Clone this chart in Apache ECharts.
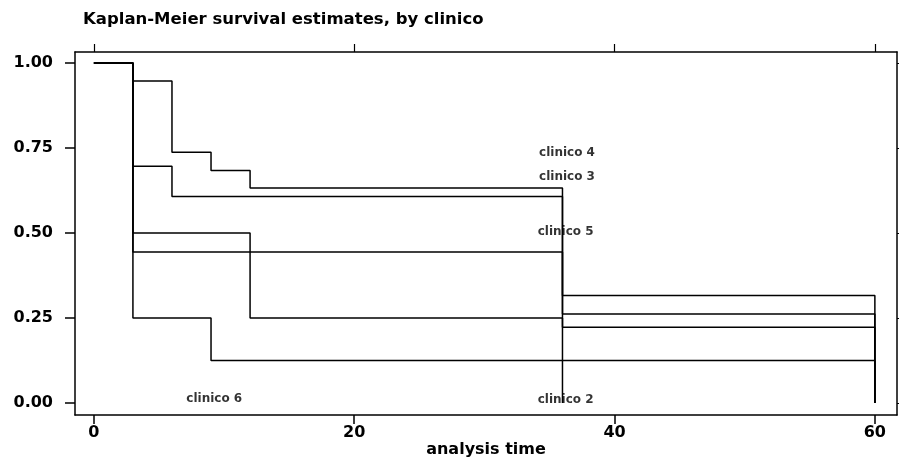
<!DOCTYPE html>
<html>
<head>
<meta charset="utf-8">
<script src="https://cdn.jsdelivr.net/npm/echarts@6/dist/echarts.min.js"></script>
<style>
html,body{margin:0;padding:0;background:#fff;}
#chart{width:899px;height:457px;}
</style>
</head>
<body>
<div id="chart"></div>
<script>
// Kaplan-Meier step data (analysis time, survival) per clinico
const seriesNames = ['clinico 4', 'clinico 3', 'clinico 5', 'clinico 2', 'clinico 6'];
const times4 = [0, 3, 6, 9, 12, 36, 60];
const surv4  = [1.00, 0.947, 0.737, 0.684, 0.632, 0.316, 0.00];
const times3 = [0, 3, 6, 36, 60];
const surv3  = [1.00, 0.696, 0.607, 0.262, 0.00];
const times5 = [0, 3, 36, 60];
const surv5  = [1.00, 0.444, 0.223, 0.00];
const times2 = [0, 3, 12, 36];
const surv2  = [1.00, 0.50, 0.25, 0.00];
const times6 = [0, 3, 9, 60];
const surv6  = [1.00, 0.25, 0.125, 0.00];

const xTicks = [0, 20, 40, 60];
const yTicks = [0, 0.25, 0.5, 0.75, 1.0];

const allTimes = [times4, times3, times5, times2, times6];
const allSurv = [surv4, surv3, surv5, surv2, surv6];

// curve label anchors (time, survival) as printed in the plot
const labelNames = ['clinico 4', 'clinico 3', 'clinico 5', 'clinico 2', 'clinico 6'];
const labelTimes = [34.2, 34.2, 34.1, 34.1, 7.1];
const labelLevels = [0.735, 0.665, 0.503, 0.009, 0.012];

const FONT = 'DejaVu Sans';

const lineSeries = seriesNames.map((name, i) => ({
  name: name,
  type: 'line',
  step: 'end',
  symbol: 'none',
  silent: true,
  data: allTimes[i].map((t, j) => [t, allSurv[i][j]]),
  lineStyle: { color: '#000', width: 1.5 },
  xAxisIndex: 0,
  yAxisIndex: 0
}));

const labelSeries = {
  type: 'scatter',
  symbolSize: 0,
  silent: true,
  data: labelNames.map((n, i) => ({ value: [labelTimes[i], labelLevels[i]], name: n })),
  label: {
    show: true,
    position: 'right',
    distance: 0,
    formatter: p => p.name,
    color: '#000',
    fontFamily: FONT,
    fontWeight: 'bold',
    fontSize: 12
  }
};

const chart = echarts.init(document.getElementById('chart'), null, { renderer: 'canvas' });
const option = {
  backgroundColor: '#fff',
  animation: false,
  title: {
    text: 'Kaplan-Meier survival estimates, by clinico',
    left: 78,
    top: 6,
    textStyle: { fontFamily: FONT, fontWeight: 'bold', fontSize: 16.5, color: '#000' }
  },
  grid: { left: 75, right: 2, top: 52, bottom: 42, show: false, outerBoundsMode: 'none', containLabel: false },
  xAxis: [
    {
      type: 'value', position: 'bottom', min: -1.45, max: 61.7,
      name: 'analysis time', nameLocation: 'middle', nameGap: 27, nameMoveOverlap: false,
      nameTextStyle: { fontFamily: FONT, fontWeight: 'bold', fontSize: 16, color: '#000' },
      axisLine: { show: true, onZero: false, lineStyle: { color: '#000', width: 1.5 } },
      axisTick: { show: true, customValues: xTicks, length: 9, lineStyle: { color: '#000', width: 1.5 } },
      axisLabel: { show: true, customValues: xTicks, margin: 10, color: '#000',
        fontFamily: FONT, fontWeight: 'bold', fontSize: 16 },
      splitLine: { show: false }
    },
    {
      type: 'value', position: 'top', min: -1.45, max: 61.7,
      axisLine: { show: true, onZero: false, lineStyle: { color: '#000', width: 1.5 } },
      axisTick: { show: true, customValues: xTicks, length: 8, lineStyle: { color: '#000', width: 1.2 } },
      axisLabel: { show: false },
      splitLine: { show: false }
    }
  ],
  yAxis: [
    {
      type: 'value', position: 'left', min: -0.035, max: 1.032,
      axisLine: { show: true, onZero: false, lineStyle: { color: '#000', width: 1.5 } },
      axisTick: { show: true, customValues: yTicks, length: 10, lineStyle: { color: '#000', width: 1.5 } },
      axisLabel: { show: true, customValues: yTicks, margin: 22, color: '#000',
        fontFamily: FONT, fontWeight: 'bold', fontSize: 16,
        formatter: v => v.toFixed(2) },
      splitLine: { show: false }
    },
    {
      type: 'value', position: 'right', min: -0.035, max: 1.032,
      axisLine: { show: true, onZero: false, lineStyle: { color: '#000', width: 1.5 } },
      axisTick: { show: true, customValues: yTicks, length: 4, lineStyle: { color: '#000', width: 1.2 } },
      axisLabel: { show: false },
      splitLine: { show: false }
    }
  ],
  series: lineSeries.concat([labelSeries])
};
chart.setOption(option);
</script>
</body>
</html>
